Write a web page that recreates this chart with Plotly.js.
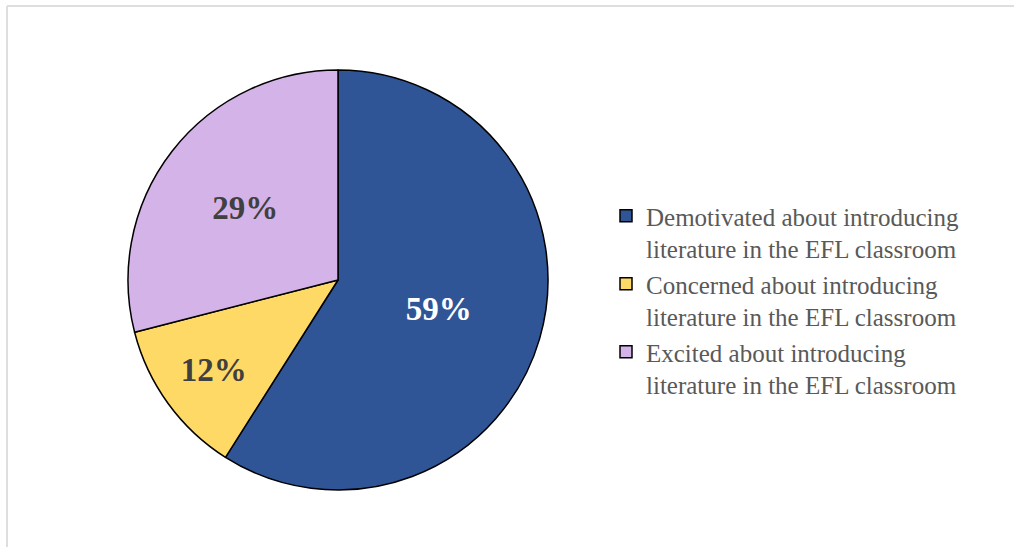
<!DOCTYPE html>
<html>
<head>
<meta charset="utf-8">
<script src="https://cdn.plot.ly/plotly-3.0.1.min.js"></script>
<style>html,body{margin:0;padding:0;background:#fff;}#chart{width:1014px;height:547px;}</style>
</head>
<body>
<div id="chart"></div>
<script>
const categories = [
  "Demotivated about introducing<br>literature in the EFL classroom",
  "Concerned about introducing<br>literature in the EFL classroom",
  "Excited about introducing<br>literature in the EFL classroom"
];
const percentages = [59, 12, 29];
const sliceColors = ["#2F5597", "#FFD966", "#D4B3E8"];
const labelColors = ["#FFFFFF", "#404040", "#404040"];

const trace = {
  type: "pie",
  labels: categories,
  values: percentages,
  sort: false,
  direction: "clockwise",
  rotation: 0,
  marker: { colors: sliceColors, line: { color: "#000000", width: 1.5 } },
  texttemplate: "<b>%{value}%</b>",
  textposition: "inside",
  insidetextorientation: "horizontal",
  insidetextfont: { family: "Liberation Serif", size: 33, color: labelColors },
  hoverinfo: "none",
  domain: { x: [128/1014, 548/1014], y: [57/547, 477/547] }
};

const layout = {
  width: 1014,
  height: 547,
  margin: { l: 0, r: 0, t: 0, b: 0 },
  paper_bgcolor: "#FFFFFF",
  showlegend: true,
  legend: {
    x: 606/1014, xanchor: "left",
    y: (547-193)/547, yanchor: "top",
    valign: "top",
    font: { family: "Liberation Serif", size: 25, color: "#595959" },
    itemclick: false
  },
  shapes: [
    { type: "line", xref: "paper", yref: "paper", x0: 7/1014, x1: 1, y0: (547-6)/547, y1: (547-6)/547, line: { color: "#DEDEDE", width: 2 } },
    { type: "line", xref: "paper", yref: "paper", x0: 7/1014, x1: 7/1014, y0: 0, y1: (547-6)/547, line: { color: "#DEDEDE", width: 2 } }
  ]
};

Plotly.newPlot("chart", [trace], layout, { staticPlot: true, displayModeBar: false });
</script>
</body>
</html>
